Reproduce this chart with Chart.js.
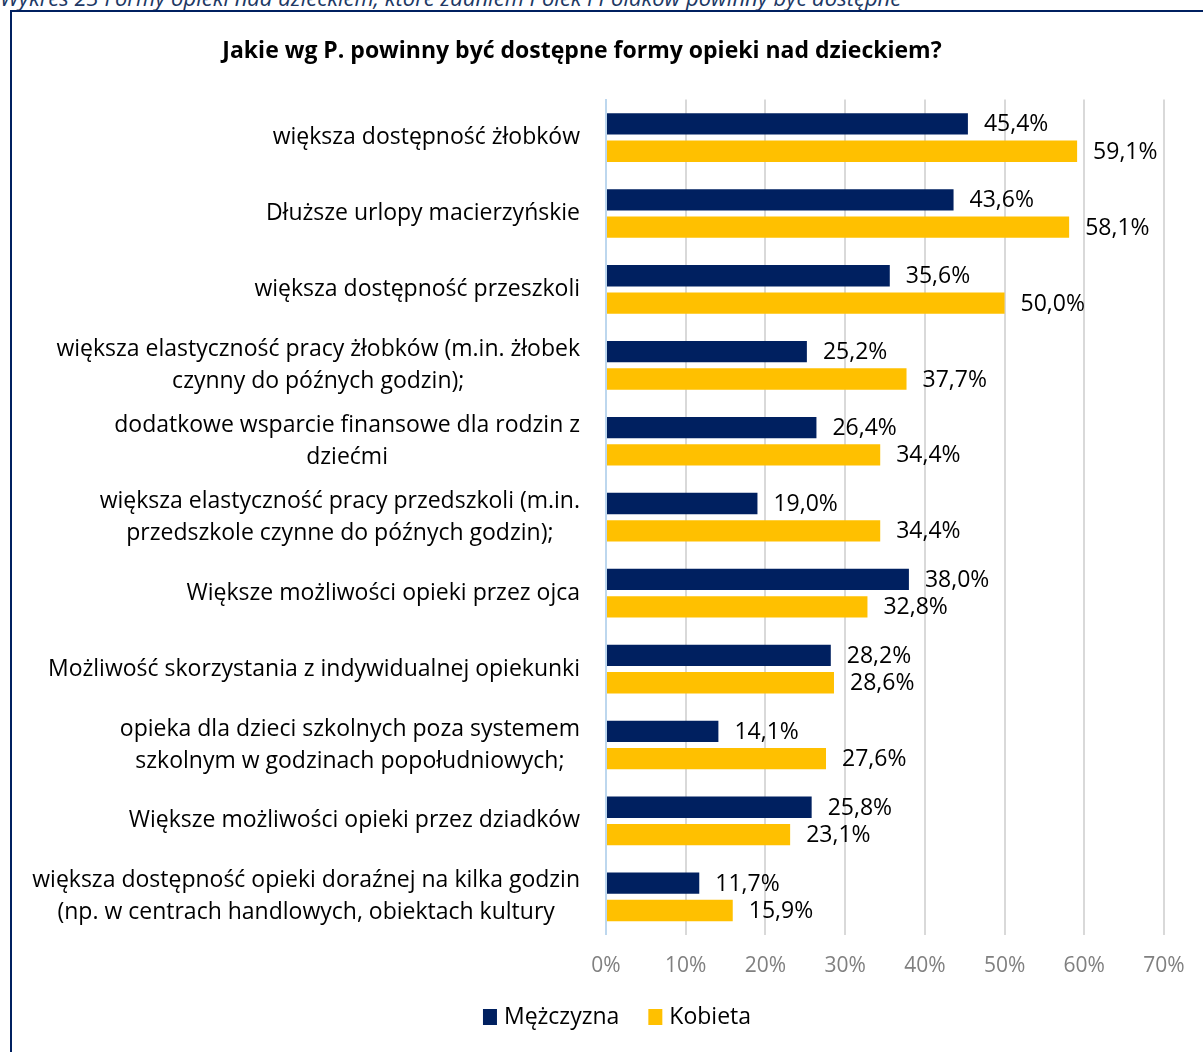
<!DOCTYPE html>
<html>
<head>
<meta charset="utf-8">
<script src="https://cdn.jsdelivr.net/npm/chart.js@4.4.1/dist/chart.umd.min.js"></script>
<style>
  body { margin: 0; background: #fff; overflow: hidden; }
  #wrap { position: relative; width: 1203px; height: 1052px; }
  #caption { position: absolute; left: 0; top: -18px; font: italic 22px "Open Sans", sans-serif; color: #203864; white-space: nowrap; }
  #frame { position: absolute; left: 10px; top: 10px; width: 1200px; height: 1100px; border-top: 2px solid #002060; border-left: 2px solid #002060; }
  #c { position: absolute; left: 0; top: 0; }
</style>
</head>
<body>
<div id="wrap">
  <div id="caption">Wykres 23 Formy opieki nad dzieckiem, które zdaniem Polek i Polaków powinny być dostępne</div>
  <div id="frame"></div>
  <canvas id="c" width="1203" height="1052"></canvas>
</div>
<script>
const categories = [
  ['większa dostępność żłobków'],
  ['Dłuższe urlopy macierzyńskie'],
  ['większa dostępność przeszkoli'],
  ['większa elastyczność pracy żłobków (m.in. żłobek', 'czynny do późnych godzin);'],
  ['dodatkowe wsparcie finansowe dla rodzin z', 'dziećmi'],
  ['większa elastyczność pracy przedszkoli (m.in.', 'przedszkole czynne do późnych godzin);'],
  ['Większe możliwości opieki przez ojca'],
  ['Możliwość skorzystania z indywidualnej opiekunki'],
  ['opieka dla dzieci szkolnych poza systemem', 'szkolnym w godzinach popołudniowych;'],
  ['Większe możliwości opieki przez dziadków'],
  ['większa dostępność opieki doraźnej na kilka godzin', '(np. w centrach handlowych, obiektach kultury']
];
const men = [45.4, 43.6, 35.6, 25.2, 26.4, 19.0, 38.0, 28.2, 14.1, 25.8, 11.7];
const women = [59.1, 58.1, 50.0, 37.7, 34.4, 34.4, 32.8, 28.6, 27.6, 23.1, 15.9];
const xTicks = [0, 10, 20, 30, 40, 50, 60, 70];

const FONT = '"Open Sans"';

// y labels: block right aligned, lines centered (like Excel)
const yLabels = {
  id: 'yLabels',
  afterDraw(chart) {
    const ctx = chart.ctx;
    const y = chart.scales.y;
    ctx.save();
    ctx.font = '23px ' + FONT;
    ctx.fillStyle = '#000';
    ctx.textAlign = 'center';
    ctx.textBaseline = 'middle';
    const right = chart.chartArea.left - 26;
    categories.forEach((lines, i) => {
      const w = Math.max(...lines.map(l => ctx.measureText(l).width));
      const cy = y.getPixelForValue(i);
      const lh = 32;
      lines.forEach((l, j) => {
        ctx.fillText(l, right - w / 2, cy + (j - (lines.length - 1) / 2) * lh);
      });
    });
    ctx.restore();
  }
};

const valueLabels = {
  id: 'valueLabels',
  afterDatasetsDraw(chart) {
    const ctx = chart.ctx;
    ctx.save();
    ctx.font = '23px ' + FONT;
    ctx.fillStyle = '#000';
    ctx.textAlign = 'left';
    ctx.textBaseline = 'middle';
    chart.data.datasets.forEach((ds, di) => {
      chart.getDatasetMeta(di).data.forEach((el, i) => {
        ctx.fillText(ds.data[i].toFixed(1).replace('.', ',') + '%', el.x + 16, el.y + 1);
      });
    });
    ctx.restore();
  }
};

// legend drawn by hand so the item gap can differ from the box padding
const bottomLegend = {
  id: 'bottomLegend',
  afterDraw(chart) {
    const ctx = chart.ctx;
    ctx.save();
    ctx.font = '23px ' + FONT;
    ctx.textBaseline = 'middle';
    ctx.textAlign = 'left';
    const items = chart.data.datasets.map(ds => ({ text: ds.label, color: ds.backgroundColor, w: ctx.measureText(ds.label).width }));
    const gap = 29;
    const total = items.reduce((a, it) => a + 14 + 7 + it.w, 0) + gap * (items.length - 1);
    let x = 617 - total / 2;
    const cy = 1017;
    items.forEach(it => {
      ctx.fillStyle = it.color;
      ctx.fillRect(x, cy - 8, 14, 16);
      ctx.fillStyle = '#000';
      ctx.fillText(it.text, x + 21, cy);
      x += 14 + 7 + it.w + gap;
    });
    ctx.restore();
  }
};

new Chart(document.getElementById('c'), {
  type: 'bar',
  data: {
    labels: categories,
    datasets: [
      { label: 'Mężczyzna', data: men, backgroundColor: '#002060', barPercentage: 0.78, categoryPercentage: 0.72 },
      { label: 'Kobieta', data: women, backgroundColor: '#FFC000', barPercentage: 0.78, categoryPercentage: 0.72 }
    ]
  },
  options: {
    indexAxis: 'y',
    responsive: false,
    animation: false,
    layout: { padding: { left: 0, right: 39, top: 0, bottom: 54 } },
    scales: {
      x: {
        min: 0,
        max: 70,
        afterBuildTicks: s => { s.ticks = xTicks.map(v => ({ value: v })); },
        afterFit: s => { s.paddingLeft = 0; s.paddingRight = 0; },
        ticks: {
          callback: v => v + '%',
          color: '#808080',
          font: { family: FONT, size: 21 },
          padding: 19
        },
        grid: { color: '#d9d9d9', lineWidth: 2, drawTicks: false },
        border: { display: false }
      },
      y: {
        afterFit: s => { s.width = 606; },
        ticks: { display: false },
        grid: { display: false, drawTicks: false },
        border: { color: '#bdd7ee', width: 2 }
      }
    },
    plugins: {
      title: {
        display: true,
        text: 'Jakie wg P. powinny być dostępne formy opieki nad dzieckiem?',
        color: '#000',
        font: { family: FONT, size: 23, weight: 'bold' },
        padding: { top: 38, bottom: 34 }
      },
      legend: { display: false },
      tooltip: { enabled: false }
    }
  },
  plugins: [yLabels, valueLabels, bottomLegend]
});
</script>
</body>
</html>
